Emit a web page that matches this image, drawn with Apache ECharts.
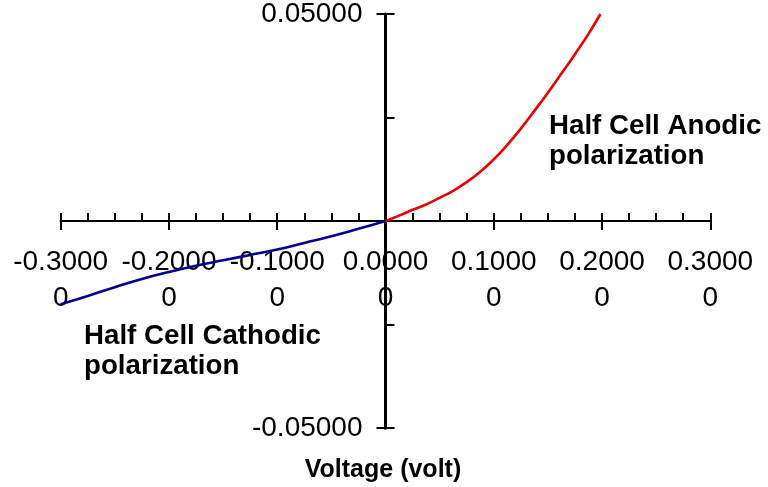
<!DOCTYPE html>
<html>
<head>
<meta charset="utf-8">
<script src="https://cdn.jsdelivr.net/npm/echarts@6/dist/echarts.min.js"></script>
<style>
html,body{margin:0;padding:0;background:#fff;}
#chart{width:768px;height:487px;}
</style>
</head>
<body>
<div id="chart"></div>
<script>
// Data
const cathodicV = [-0.3, -0.275, -0.25, -0.225, -0.2, -0.175, -0.15, -0.125, -0.1, -0.075, -0.05, -0.025, 0];
const cathodicI = [-0.0201, -0.0181, -0.0160, -0.0140, -0.0123, -0.0108, -0.0095, -0.0082, -0.0069, -0.0053, -0.0037, -0.0019, 0];
const anodicV = [0, 0.0125, 0.025, 0.0375, 0.05, 0.0625, 0.075, 0.0875, 0.1, 0.1125, 0.125, 0.1375, 0.15, 0.1625, 0.175, 0.1875, 0.1985];
const anodicI = [0, 0.0013, 0.0027, 0.0040, 0.0056, 0.0073, 0.0094, 0.0119, 0.0149, 0.0184, 0.0223, 0.0266, 0.0310, 0.0356, 0.0403, 0.0452, 0.0500];
const xMin = -0.3, xMax = 0.3, xStep = 0.1;
const yMin = -0.05, yMax = 0.05, yStep = 0.05;
const xTitle = 'Voltage (volt)';
const anodicLabel = ['Half Cell Anodic', 'polarization'];
const cathodicLabel = ['Half Cell Cathodic', 'polarization'];

const FONT = '"Liberation Sans", Arial, sans-serif';
const chart = echarts.init(document.getElementById('chart'), null, {renderer: 'canvas'});

function pair(xs, ys) { return xs.map((x, i) => [x, ys[i]]); }

// plot area geometry
const G = {left: 60.7, right: 57.7, top: 14, bottom: 59};
const W = 768, H = 487;
const plotW = W - G.left - G.right, plotH = H - G.top - G.bottom;
// offsets that put the axes through the origin
const zeroX = G.left + plotW * (0 - xMin) / (xMax - xMin);
const zeroY = G.top + plotH * (yMax - 0) / (yMax - yMin);
const offBottom = -(H - G.bottom - zeroY);
const offTop = -(zeroY - G.top);
const offLeft = -(zeroX - G.left);
const offRight = -(W - G.right - zeroX);

const tickStyle = {color: '#000', width: 2};

const option = {
  backgroundColor: '#fff',
  animation: false,
  grid: {left: G.left, right: G.right, top: G.top, bottom: G.bottom, containLabel: false, outerBoundsMode: 'none'},
  xAxis: [
    {
      type: 'value', min: xMin, max: xMax, interval: xStep, position: 'bottom', offset: offBottom,
      axisLine: {show: true, onZero: false, lineStyle: {color: '#000', width: 2}},
      axisTick: {show: true, length: 9, lineStyle: tickStyle},
      minorTick: {show: false},
      splitLine: {show: false},
      axisLabel: {
        show: true, color: '#000', fontFamily: FONT, fontSize: 28, lineHeight: 36, margin: 23,
        showMinLabel: true, showMaxLabel: true, hideOverlap: false,
        formatter: v => v.toFixed(4) + '\n0'
      }
    },
    {
      type: 'value', min: xMin, max: xMax, interval: xStep, position: 'top', offset: offTop,
      axisLine: {show: true, onZero: false, lineStyle: {color: '#000', width: 2}},
      axisTick: {show: true, length: 8, lineStyle: tickStyle},
      minorTick: {show: true, splitNumber: 4, length: 8, lineStyle: tickStyle},
      splitLine: {show: false},
      axisLabel: {show: false}
    }
  ],
  yAxis: [
    {
      type: 'value', min: yMin, max: yMax, interval: yStep, position: 'left', offset: offLeft,
      axisLine: {show: true, onZero: false, lineStyle: {color: '#000', width: 3}},
      axisTick: {show: true, length: 9, lineStyle: tickStyle},
      minorTick: {show: false},
      splitLine: {show: false},
      axisLabel: {
        show: true, color: '#000', fontFamily: FONT, fontSize: 28, margin: 23,
        showMinLabel: true, showMaxLabel: true,
        formatter: v => Math.abs(v) < 1e-9 ? '' : v.toFixed(5)
      }
    },
    {
      type: 'value', min: yMin, max: yMax, interval: yStep, position: 'right', offset: offRight,
      axisLine: {show: true, onZero: false, lineStyle: {color: '#000', width: 3}},
      axisTick: {show: true, length: 9, lineStyle: tickStyle},
      minorTick: {show: true, splitNumber: 2, length: 9, lineStyle: tickStyle},
      splitLine: {show: false},
      axisLabel: {show: false}
    }
  ],
  series: [
    {
      name: 'Cathodic', type: 'line', xAxisIndex: 0, yAxisIndex: 0,
      data: pair(cathodicV, cathodicI), smooth: 0.5, showSymbol: false, symbol: 'none',
      lineStyle: {color: '#000099', width: 2.6}, z: 3
    },
    {
      name: 'Anodic', type: 'line', xAxisIndex: 0, yAxisIndex: 0,
      data: pair(anodicV, anodicI), smooth: 0.5, showSymbol: false, symbol: 'none',
      lineStyle: {color: '#EE0000', width: 2.6}, z: 3
    }
  ],
  graphic: [
    {type: 'text', left: 549, top: 112, style: {text: anodicLabel[0], font: 'bold 27.7px ' + FONT, fill: '#000'}},
    {type: 'text', left: 549, top: 142, style: {text: anodicLabel[1], font: 'bold 27.7px ' + FONT, fill: '#000'}},
    {type: 'text', left: 84, top: 322, style: {text: cathodicLabel[0], font: 'bold 27.7px ' + FONT, fill: '#000'}},
    {type: 'text', left: 84, top: 352, style: {text: cathodicLabel[1], font: 'bold 27.7px ' + FONT, fill: '#000'}},
    {type: 'text', x: 383, y: 470, style: {text: xTitle, font: 'bold 25px ' + FONT, fill: '#000', align: 'center', verticalAlign: 'middle'}}
  ]
};
chart.setOption(option);
</script>
</body>
</html>
